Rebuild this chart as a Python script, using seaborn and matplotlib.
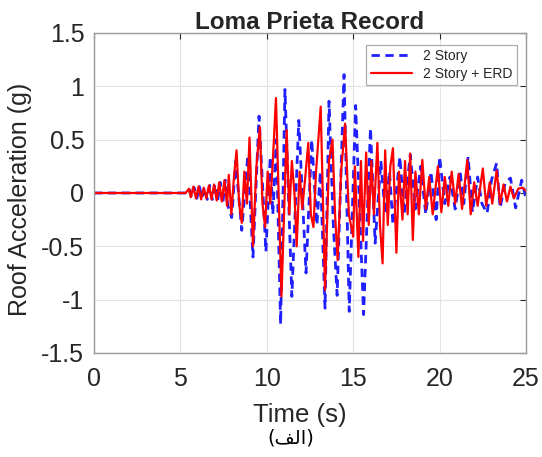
import numpy as np
import pandas as pd
import matplotlib
matplotlib.use('Agg')
import matplotlib.pyplot as plt
import seaborn as sns

# Peak values (time in s, roof acceleration in g)
t_story = [0.0, 5.3, 5.5, 5.65, 5.8, 5.95, 6.1, 6.25, 6.4, 6.55, 6.7, 6.85, 7.0, 7.15,
           7.3, 7.45, 7.6, 7.75, 7.97, 8.2, 8.55, 8.9, 9.2, 9.55, 9.95, 10.2, 10.35,
           10.55, 10.8, 11.05, 11.45, 11.85, 12.27, 12.6, 12.9, 13.1, 13.37, 13.6,
           13.85, 14.07, 14.47, 14.77, 15.14, 15.6, 16.0, 16.27, 16.6, 16.85, 17.1,
           17.3, 17.7, 17.95, 18.3, 18.6, 18.9, 19.2, 19.5, 19.8, 20.0, 20.3, 20.6,
           20.9, 21.2, 21.4, 21.65, 21.9, 22.2, 22.45, 22.75, 23.0, 23.3, 23.5, 23.8,
           24.1, 24.4, 24.75, 25.0]
a_story = [0.0, 0.0, 0.04, -0.04, 0.05, -0.05, 0.06, -0.05, 0.05, -0.06, 0.07, -0.06,
           0.08, -0.08, 0.1, -0.1, 0.12, -0.12, -0.23, 0.3, -0.35, 0.35, -0.6, 0.72,
           -0.55, 0.34, -0.2, 0.5, -1.23, 0.97, -0.97, 0.68, -0.75, 0.5, -0.3, 0.2,
           -1.08, 0.86, -0.3, -0.96, 1.11, -1.11, 0.82, -1.14, 0.61, -0.47, 0.3, -0.2,
           0.2, -0.3, 0.34, -0.2, 0.36, -0.15, 0.25, -0.2, 0.2, -0.25, 0.34, -0.1,
           0.15, -0.15, 0.18, -0.1, 0.34, -0.18, 0.15, -0.1, -0.19, 0.12, 0.28, -0.14,
           0.1, 0.14, -0.14, 0.12, -0.05]

t_erd = [0.0, 5.3, 5.5, 5.6, 5.75, 5.9, 6.05, 6.2, 6.35, 6.5, 6.65, 6.8, 6.95, 7.1,
         7.25, 7.4, 7.55, 7.7, 7.8, 7.95, 8.1, 8.25, 8.4, 8.55, 8.7, 8.85, 9.0, 9.2,
         9.4, 9.6, 9.75, 9.9, 10.05, 10.2, 10.35, 10.53, 10.85, 11.15, 11.3, 11.45,
         11.6, 11.73, 11.9, 12.05, 12.2, 12.4, 12.55, 12.7, 12.85, 13.12, 13.37,
         13.6, 13.8, 13.95, 14.1, 14.3, 14.53, 14.75, 15.0, 15.1, 15.3, 15.45, 15.57,
         15.75, 15.9, 16.05, 16.2, 16.4, 16.55, 16.7, 16.85, 17.0, 17.15, 17.3, 17.5,
         17.65, 17.85, 18.0, 18.15, 18.3, 18.45, 18.6, 18.8, 19.0, 19.2, 19.4, 19.6,
         19.9, 20.1, 20.3, 20.5, 20.7, 20.9, 21.1, 21.3, 21.6, 21.8, 22.0, 22.2, 22.5,
         22.7, 22.9, 23.05, 23.3, 23.5, 23.7, 23.9, 24.1, 24.3, 24.55, 24.8, 25.0]
a_erd = [0.0, 0.0, 0.04, -0.04, 0.06, -0.05, 0.06, -0.06, 0.05, -0.05, 0.07, -0.06,
         0.08, -0.07, 0.1, -0.08, 0.12, -0.12, 0.17, -0.2, 0.15, 0.4, -0.1, -0.28,
         0.2, -0.1, 0.52, -0.5, 0.25, 0.62, -0.1, -0.32, 0.2, -0.1, 0.3, 0.89, -0.97,
         0.59, -0.2, 0.3, 0.0, -0.5, 0.2, -0.15, 0.1, 0.47, -0.2, -0.32, 0.2, 0.81,
         -0.91, 0.3, 0.5, -0.2, -0.63, 0.2, 0.65, -0.2, -0.41, 0.25, -0.6, 0.3, -0.45,
         0.38, -0.3, 0.3, -0.2, 0.47, -0.3, -0.66, 0.4, -0.3, 0.25, 0.42, -0.56, 0.2,
         -0.25, 0.3, -0.2, 0.37, -0.44, 0.2, -0.2, 0.31, -0.15, 0.15, -0.2, 0.25,
         -0.18, 0.15, -0.12, 0.2, -0.1, 0.18, -0.15, 0.31, -0.2, 0.1, -0.12, 0.23,
         -0.12, 0.1, -0.1, 0.21, -0.1, 0.08, -0.08, 0.06, -0.05, 0.04, 0.05, 0.02]

x_ticks = [0, 5, 10, 15, 20, 25]
y_ticks = [-1.5, -1, -0.5, 0, 0.5, 1, 1.5]
y_ticklabels = ['-1.5', '-1', '-0.5', '0', '0.5', '1', '1.5']

sns.set_style('whitegrid')
plt.rcParams['font.family'] = ['Liberation Sans', 'DejaVu Sans']

fig = plt.figure(figsize=(5.42, 4.57), dpi=100)
ax = fig.add_axes([0.1734, 0.2276, 0.7971, 0.7002])

# Plot both response time histories
sns.lineplot(x=t_story, y=a_story, ax=ax, color='#1f1fff', lw=2.0,
             linestyle=(0, (3, 2)), label='2 Story', sort=False)
sns.lineplot(x=t_erd, y=a_erd, ax=ax, color='#ff0000', lw=1.6,
             label='2 Story + ERD', sort=False)

ax.set_xlim(0, 25)
ax.set_ylim(-1.5, 1.5)
ax.set_xticks(x_ticks)
ax.set_yticks(y_ticks)
ax.set_yticklabels(y_ticklabels)
ax.tick_params(axis='both', labelsize=18, colors='#262626', direction='in',
               length=4, width=0.8, top=True, right=True)
ax.tick_params(axis='x', pad=10)
ax.tick_params(axis='y', pad=7)
ax.grid(color='#e3e3e3', lw=0.8)
for sp in ax.spines.values():
    sp.set_color('#9a9a9a')
    sp.set_linewidth(1.0)

ax.set_title('Loma Prieta Record', fontsize=17.5, fontweight='bold', pad=3)
ax.set_xlabel('Time (s)', fontsize=18.5, color='#262626')
ax.xaxis.set_label_coords(0.477, -0.155)
ax.set_ylabel('Roof Acceleration (g)', fontsize=18, color='#262626')
ax.yaxis.set_label_coords(-0.143, 0.48)

leg = ax.legend(loc='upper right', fontsize=10, frameon=True, fancybox=False,
                handlelength=3.0, borderpad=0.3, labelspacing=0.3,
                handletextpad=0.8, borderaxespad=0,
                bbox_to_anchor=(0.979, 0.9625))
leg.get_frame().set_edgecolor('#9a9a9a')
leg.get_frame().set_linewidth(0.9)

# Caption (shaped Arabic glyphs in visual order)
fig.text(0.537, 0.042, '(\ufed2\ufedf\ufe8d)', ha='center', va='center',
         fontsize=14, family=['DejaVu Sans'], color='black')

fig.savefig('out.png', dpi=100)
